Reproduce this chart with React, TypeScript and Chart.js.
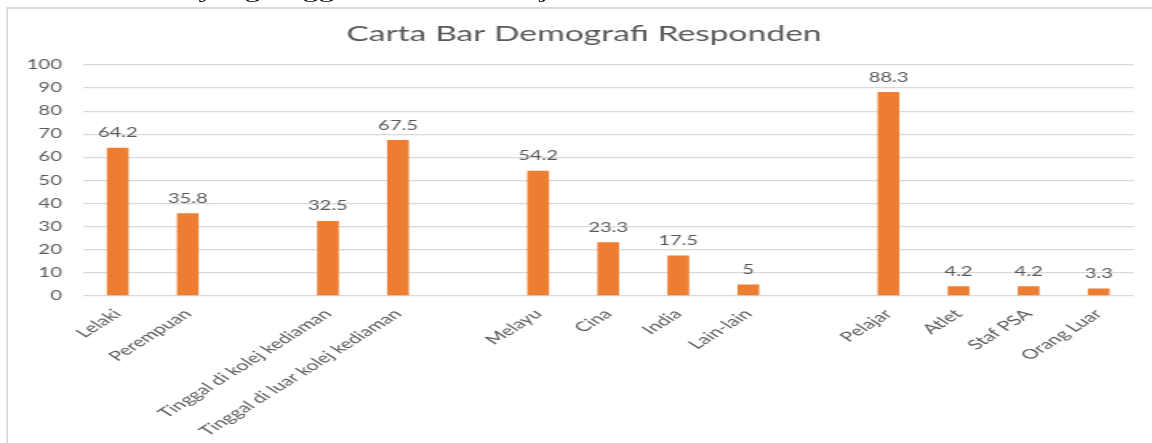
import React, { useEffect, useRef } from "react";
import { Chart, registerables } from "chart.js";

Chart.register(...registerables);

const categories: string[] = [
  "Lelaki",
  "Perempuan",
  "",
  "Tinggal di kolej kediaman",
  "Tinggal di luar kolej kediaman",
  "",
  "Melayu",
  "Cina",
  "India",
  "Lain-lain",
  "",
  "Pelajar",
  "Atlet",
  "Staf PSA",
  "Orang Luar",
];

const values: (number | null)[] = [
  64.2, 35.8, null, 32.5, 67.5, null, 54.2, 23.3, 17.5, 5, null, 88.3, 4.2, 4.2, 3.3,
];

const yTicks: number[] = [0, 10, 20, 30, 40, 50, 60, 70, 80, 90, 100];

const chartTitle = "Carta Bar Demografi Responden";
const topText = "yang tinggal di dalam kolej";

const S = 1.6; // horizontal stretch of the reference
const W = 726;
const H = 443;
const FONT = "Lato";
const TEXT = "#595959";

const valueLabels = {
  id: "valueLabels",
  afterDatasetsDraw(chart: any) {
    const ctx = chart.ctx as CanvasRenderingContext2D;
    const meta = chart.getDatasetMeta(0);
    ctx.save();
    ctx.font = `12.6px ${FONT}`;
    ctx.fillStyle = TEXT;
    ctx.textAlign = "center";
    ctx.textBaseline = "alphabetic";
    meta.data.forEach((el: any, i: number) => {
      const v = values[i];
      if (v == null) return;
      ctx.fillText(String(v), el.x, el.y - 10.5);
    });
    ctx.restore();
  },
};

export default function App() {
  const ref = useRef<HTMLCanvasElement>(null);

  useEffect(() => {
    if (!ref.current) return;
    const chart = new Chart(ref.current, {
      type: "bar",
      data: {
        labels: categories,
        datasets: [
          {
            data: values as any,
            backgroundColor: "#ED7D31",
            borderWidth: 0,
            categoryPercentage: 1,
            barPercentage: 0.31,
          },
        ],
      },
      options: {
        animation: false,
        responsive: false,
        devicePixelRatio: 1,
        layout: { padding: { left: 4, right: 0, top: 8, bottom: 0 } },
        plugins: {
          legend: { display: false },
          tooltip: { enabled: false },
          title: {
            display: true,
            text: chartTitle,
            color: TEXT,
            font: { family: FONT, size: 21, weight: "normal" as any },
            padding: { top: 14, bottom: 17.8 },
          },
        },
        scales: {
          x: {
            grid: { display: false, drawTicks: false },
            border: { display: false },
            ticks: {
              autoSkip: false,
              maxRotation: 45,
              minRotation: 45,
              padding: 10,
              color: TEXT,
              font: { family: FONT, size: 13.4 },
            },
            afterFit: (s: any) => {
              s.height = 147;
            },
          },
          y: {
            min: 0,
            max: 100,
            afterBuildTicks: (s: any) => {
              s.ticks = yTicks.map((v) => ({ value: v }));
            },
            grid: { color: "#d9d9d9", lineWidth: 1.3, drawTicks: false },
            border: { display: false },
            ticks: {
              padding: 13,
              color: TEXT,
              font: { family: FONT, size: 12.6 },
            },
            afterFit: (s: any) => {
              s.width = 47.7;
            },
          },
          yRight: {
            position: "right",
            display: true,
            grid: { display: false, drawTicks: false },
            border: { display: false },
            ticks: { display: false },
            afterFit: (s: any) => {
              s.width = 17.4;
            },
          },
        },
      },
      plugins: [valueLabels],
    });
    return () => chart.destroy();
  }, []);

  return (
    <div
      style={{
        position: "fixed",
        left: 0,
        top: 0,
        width: 1152,
        height: 443,
        overflow: "hidden",
        background: "#fff",
      }}
    >
      <div
        style={{
          position: "absolute",
          left: 0,
          top: 0,
          width: W,
          height: H,
          transform: `scaleX(${S})`,
          transformOrigin: "0 0",
        }}
      >
        <div
          style={{
            position: "absolute",
            left: 124,
            top: -19.8,
            whiteSpace: "nowrap",
            fontFamily: "'Liberation Serif', serif",
            fontSize: 20,
            lineHeight: "20px",
            color: "#000",
          }}
        >
          {topText}
        </div>
        <div
          style={{
            position: "absolute",
            left: 4.4,
            top: 7,
            width: 800,
            height: 600,
            borderTop: "2px solid #d9d9d9",
            borderLeft: "1.25px solid #d9d9d9",
            boxSizing: "border-box",
          }}
        />
        <div style={{ position: "absolute", left: 0, top: 0, width: W, height: H }}>
          <canvas ref={ref} width={W} height={H} style={{ width: W, height: H, display: "block" }} />
        </div>
      </div>
    </div>
  );
}
